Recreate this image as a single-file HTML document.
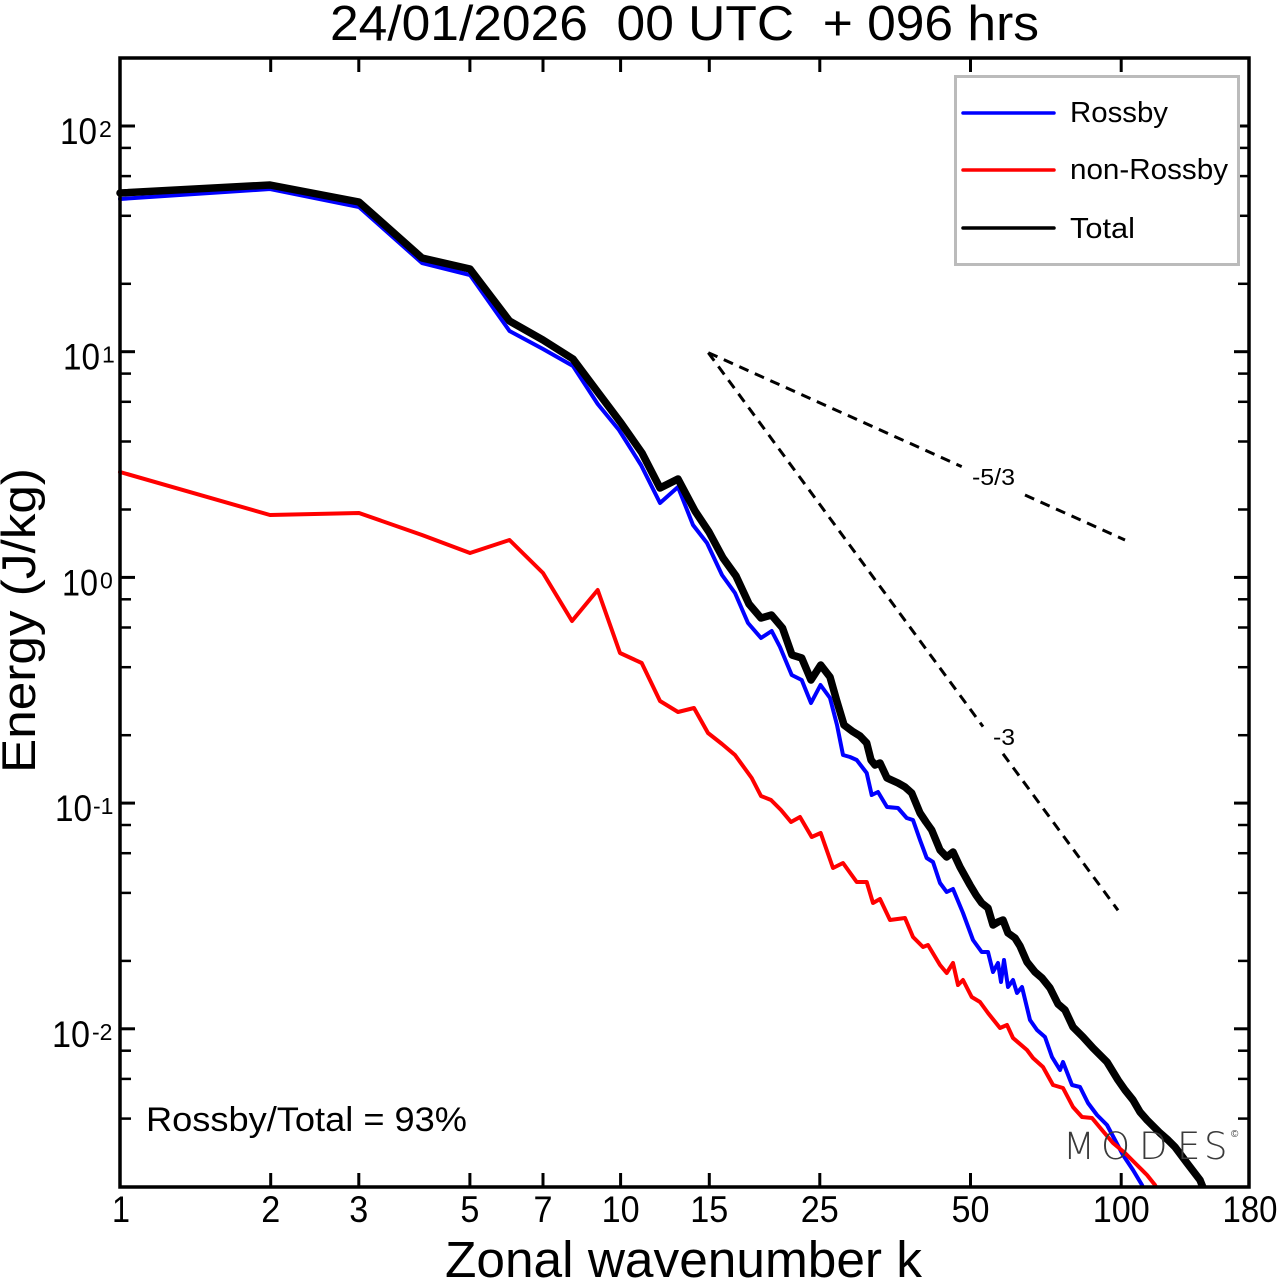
<!DOCTYPE html>
<html><head><meta charset="utf-8"><style>
html,body{margin:0;padding:0;background:#fff;}
svg{display:block;}
text{font-family:"Liberation Sans",Arial,sans-serif;fill:#000;}
</style></head><body>
<svg width="1280" height="1281" viewBox="0 0 1280 1281" xmlns="http://www.w3.org/2000/svg">
<rect x="0" y="0" width="1280" height="1281" fill="#fff"/>
<defs><clipPath id="pc"><rect x="100" y="58" width="1149" height="1129"/></clipPath></defs>

<!-- title -->
<text x="330" y="40" font-size="49" textLength="709" lengthAdjust="spacingAndGlyphs" style="white-space:pre" xml:space="preserve">24/01/2026  00 UTC  + 096 hrs</text>

<!-- reference dashed lines -->
<g stroke="#000" stroke-width="3" stroke-dasharray="10 7" fill="none">
<line x1="708.3" y1="352.7" x2="961.7" y2="466.6"/>
<line x1="1025" y1="495" x2="1125" y2="540"/>
<line x1="708.3" y1="352.7" x2="983" y2="726.6"/>
<line x1="1003" y1="753.8" x2="1118" y2="910.3"/>
</g>
<text x="972" y="485" font-size="23" textLength="43" lengthAdjust="spacingAndGlyphs">-5/3</text>
<text x="993" y="745" font-size="23" textLength="22" lengthAdjust="spacingAndGlyphs">-3</text>

<g clip-path="url(#pc)" fill="none" stroke-linejoin="round" stroke-linecap="round">
<polyline stroke="#0000ff" stroke-width="4" points="120,199 270,189 359,207 422,263 470,275 509.5,331 543,349 573,366 597.7,404 619,430 641,465 660,503 678,487 693,525 707,543 722,575 735,593 748,623 761,638 771.7,631 780,647 791.7,675 801.7,680 811,703 820.5,685 830,698 837,725 843,755 850,757 856.7,760 866.7,773 871.7,795 878,792 887,807 898,808 906.7,818 913,820 920,840 926.7,858 933,862 940,883 946.7,892 953,889 963,913 973,940 981.7,952 988,952 993,972 998,963 1001,982 1004,960 1008,987 1013,980 1017,993 1022,987 1030,1020 1037,1030 1045,1037 1052,1057 1060,1070 1063,1062 1072,1085 1080,1087 1088,1103 1097,1115 1107,1125 1115,1140 1123,1155 1133,1170 1142,1185 1146,1195"/>
<polyline stroke="#ff0000" stroke-width="4" points="120,472 270,515 359,513 422,535 470,553 509.5,540 543,573 572,621 597.7,590 620,653 641.7,663 660,701 678,712 694,708 708,733 722,744 735,755 751.7,778 761,796 771,800 781,810 791,822 800,817 811.7,837 820.7,833 833,868 843,863 856.7,882 866.7,882 873,903 880,899 890,920 905,918 913,937 923,947 928,945 940,965 946.7,973 953,963 958,985 963,980 971.7,997 980,1002 988,1013 1000,1028 1007,1025 1013,1038 1027,1050 1033,1058 1043,1067 1053,1085 1063,1088 1073,1107 1082,1117 1092,1118 1102,1130 1113,1143 1125,1153 1137,1165 1147,1175 1155,1185 1160,1195"/>
<polyline stroke="#000" stroke-width="7.5" points="120,193 270,185 359,202 422,258 470,269 509.5,321 543,340 573,359 597.7,392 621,423 642,453 660,488 678,479 695,511 709,532 723,558 736,576 749,604 761,618 771.5,615 782.5,628 792,655 801.7,658 811,680 820.7,665 830,677 836.5,700 844,725 853,731.7 860,736 866.7,743 871,760 875,765 880,763 887,778 898,783 905,787 911.7,793 920,813 926,822 931.7,830 940,850 946.7,857 953,852 960,867 970,885 976,895 981.7,903 988,908 993,925 998,922 1003,920 1008,933 1015,938 1020,946 1027,962 1035,972 1042,978 1050,988 1058,1004 1065,1010 1073,1027 1083,1037 1093,1048 1100,1055 1107,1062 1118,1080 1125,1090 1133,1100 1140,1112 1147,1120 1160,1133 1168,1140 1175,1147 1187,1163 1200,1180 1206,1195"/>
</g>

<!-- watermark -->
<g font-size="37">
<text x="1063" y="1159" style="font-family:'DejaVu Sans','Liberation Sans',sans-serif;font-weight:200;fill:#3a3a3a">M</text>
<text x="1101" y="1159" style="font-family:'DejaVu Sans','Liberation Sans',sans-serif;font-weight:200;fill:#3a3a3a">O</text>
<text x="1139" y="1159" style="font-family:'DejaVu Sans','Liberation Sans',sans-serif;font-weight:200;fill:#3a3a3a">D</text>
<text x="1177" y="1159" style="font-family:'DejaVu Sans','Liberation Sans',sans-serif;font-weight:200;fill:#3a3a3a">E</text>
<text x="1204" y="1159" style="font-family:'DejaVu Sans','Liberation Sans',sans-serif;font-weight:200;fill:#3a3a3a">S</text>
</g>
<text x="1231" y="1137" font-size="10" style="fill:#3a3a3a">©</text>

<!-- axes frame -->
<rect x="120" y="58" width="1129" height="1129" fill="none" stroke="#000" stroke-width="3.5"/>

<!-- x ticks -->
<g stroke="#000" stroke-width="3">
<line x1="270.7" y1="1187" x2="270.7" y2="1173"/><line x1="270.7" y1="58" x2="270.7" y2="72"/>
<line x1="358.8" y1="1187" x2="358.8" y2="1173"/><line x1="358.8" y1="58" x2="358.8" y2="72"/>
<line x1="469.9" y1="1187" x2="469.9" y2="1173"/><line x1="469.9" y1="58" x2="469.9" y2="72"/>
<line x1="543.0" y1="1187" x2="543.0" y2="1173"/><line x1="543.0" y1="58" x2="543.0" y2="72"/>
<line x1="620.6" y1="1187" x2="620.6" y2="1173"/><line x1="620.6" y1="58" x2="620.6" y2="72"/>
<line x1="709.3" y1="1187" x2="709.3" y2="1173"/><line x1="709.3" y1="58" x2="709.3" y2="72"/>
<line x1="819.8" y1="1187" x2="819.8" y2="1173"/><line x1="819.8" y1="58" x2="819.8" y2="72"/>
<line x1="970.5" y1="1187" x2="970.5" y2="1173"/><line x1="970.5" y1="58" x2="970.5" y2="72"/>
<line x1="1121.2" y1="1187" x2="1121.2" y2="1173"/><line x1="1121.2" y1="58" x2="1121.2" y2="72"/>
</g>

<!-- y ticks -->
<g stroke="#000" stroke-width="3">
<line x1="120" y1="126" x2="135" y2="126"/><line x1="1249" y1="126" x2="1234" y2="126"/>
<line x1="120" y1="351.7" x2="135" y2="351.7"/><line x1="1249" y1="351.7" x2="1234" y2="351.7"/>
<line x1="120" y1="577.4" x2="135" y2="577.4"/><line x1="1249" y1="577.4" x2="1234" y2="577.4"/>
<line x1="120" y1="803.1" x2="135" y2="803.1"/><line x1="1249" y1="803.1" x2="1234" y2="803.1"/>
<line x1="120" y1="1028.8" x2="135" y2="1028.8"/><line x1="1249" y1="1028.8" x2="1234" y2="1028.8"/>
</g>
<g stroke="#000" stroke-width="2.5">
<line x1="120" y1="283.8" x2="131" y2="283.8"/><line x1="1249" y1="283.8" x2="1238" y2="283.8"/>
<line x1="120" y1="215.8" x2="131" y2="215.8"/><line x1="1249" y1="215.8" x2="1238" y2="215.8"/>
<line x1="120" y1="176.1" x2="131" y2="176.1"/><line x1="1249" y1="176.1" x2="1238" y2="176.1"/>
<line x1="120" y1="147.9" x2="131" y2="147.9"/><line x1="1249" y1="147.9" x2="1238" y2="147.9"/>
<line x1="120" y1="509.5" x2="131" y2="509.5"/><line x1="1249" y1="509.5" x2="1238" y2="509.5"/>
<line x1="120" y1="441.5" x2="131" y2="441.5"/><line x1="1249" y1="441.5" x2="1238" y2="441.5"/>
<line x1="120" y1="401.8" x2="131" y2="401.8"/><line x1="1249" y1="401.8" x2="1238" y2="401.8"/>
<line x1="120" y1="373.6" x2="131" y2="373.6"/><line x1="1249" y1="373.6" x2="1238" y2="373.6"/>
<line x1="120" y1="735.2" x2="131" y2="735.2"/><line x1="1249" y1="735.2" x2="1238" y2="735.2"/>
<line x1="120" y1="667.2" x2="131" y2="667.2"/><line x1="1249" y1="667.2" x2="1238" y2="667.2"/>
<line x1="120" y1="627.5" x2="131" y2="627.5"/><line x1="1249" y1="627.5" x2="1238" y2="627.5"/>
<line x1="120" y1="599.3" x2="131" y2="599.3"/><line x1="1249" y1="599.3" x2="1238" y2="599.3"/>
<line x1="120" y1="960.9" x2="131" y2="960.9"/><line x1="1249" y1="960.9" x2="1238" y2="960.9"/>
<line x1="120" y1="892.9" x2="131" y2="892.9"/><line x1="1249" y1="892.9" x2="1238" y2="892.9"/>
<line x1="120" y1="853.2" x2="131" y2="853.2"/><line x1="1249" y1="853.2" x2="1238" y2="853.2"/>
<line x1="120" y1="825.0" x2="131" y2="825.0"/><line x1="1249" y1="825.0" x2="1238" y2="825.0"/>
<line x1="120" y1="1118.6" x2="131" y2="1118.6"/><line x1="1249" y1="1118.6" x2="1238" y2="1118.6"/>
<line x1="120" y1="1078.9" x2="131" y2="1078.9"/><line x1="1249" y1="1078.9" x2="1238" y2="1078.9"/>
<line x1="120" y1="1050.7" x2="131" y2="1050.7"/><line x1="1249" y1="1050.7" x2="1238" y2="1050.7"/>
</g>

<!-- y tick labels -->
<g font-size="37">
<text x="60" y="144" textLength="37" lengthAdjust="spacingAndGlyphs">10</text><text x="99" y="137" font-size="23">2</text>
<text x="63" y="369.7" textLength="37" lengthAdjust="spacingAndGlyphs">10</text><text x="102" y="362.7" font-size="23">1</text>
<text x="62" y="595.4" textLength="36" lengthAdjust="spacingAndGlyphs">10</text><text x="100" y="588.4" font-size="23">0</text>
<text x="55" y="821.1" textLength="37" lengthAdjust="spacingAndGlyphs">10</text><text x="93" y="814.1" font-size="23">-1</text>
<text x="52" y="1046.8" textLength="38" lengthAdjust="spacingAndGlyphs">10</text><text x="92" y="1039.8" font-size="23">-2</text>
</g>

<!-- x tick labels -->
<g font-size="37" text-anchor="middle">
<text x="121" y="1222" textLength="18" lengthAdjust="spacingAndGlyphs">1</text>
<text x="270.7" y="1222" textLength="19" lengthAdjust="spacingAndGlyphs">2</text>
<text x="358.8" y="1222" textLength="19" lengthAdjust="spacingAndGlyphs">3</text>
<text x="469.9" y="1222" textLength="19" lengthAdjust="spacingAndGlyphs">5</text>
<text x="543" y="1222" textLength="19" lengthAdjust="spacingAndGlyphs">7</text>
<text x="620.6" y="1222" textLength="38" lengthAdjust="spacingAndGlyphs">10</text>
<text x="709.3" y="1222" textLength="38" lengthAdjust="spacingAndGlyphs">15</text>
<text x="819.8" y="1222" textLength="38" lengthAdjust="spacingAndGlyphs">25</text>
<text x="970.5" y="1222" textLength="38" lengthAdjust="spacingAndGlyphs">50</text>
<text x="1121.2" y="1222" textLength="57" lengthAdjust="spacingAndGlyphs">100</text>
<text x="1250" y="1222" textLength="55" lengthAdjust="spacingAndGlyphs">180</text>
</g>

<!-- axis titles -->
<text x="445" y="1277" font-size="51" textLength="477" lengthAdjust="spacingAndGlyphs">Zonal wavenumber k</text>
<text transform="translate(35,620.5) rotate(-90)" x="0" y="0" font-size="47" text-anchor="middle" textLength="305" lengthAdjust="spacingAndGlyphs">Energy (J/kg)</text>

<!-- ratio text -->
<text x="146" y="1131" font-size="34" textLength="321" lengthAdjust="spacingAndGlyphs">Rossby/Total = 93%</text>

<!-- legend -->
<rect x="955.5" y="76.5" width="283" height="188" fill="#fff" stroke="#bbbbbb" stroke-width="3"/>
<line x1="963" y1="113" x2="1054" y2="113" stroke="#0000ff" stroke-width="3.5" stroke-linecap="round"/>
<line x1="963" y1="170" x2="1054" y2="170" stroke="#ff0000" stroke-width="3.5" stroke-linecap="round"/>
<line x1="963" y1="228" x2="1054" y2="228" stroke="#000" stroke-width="3.5" stroke-linecap="round"/>
<text x="1070" y="122" font-size="29" textLength="98" lengthAdjust="spacingAndGlyphs">Rossby</text>
<text x="1070" y="179" font-size="29" textLength="158" lengthAdjust="spacingAndGlyphs">non-Rossby</text>
<text x="1070" y="238" font-size="29" textLength="65" lengthAdjust="spacingAndGlyphs">Total</text>
</svg>
</body></html>
